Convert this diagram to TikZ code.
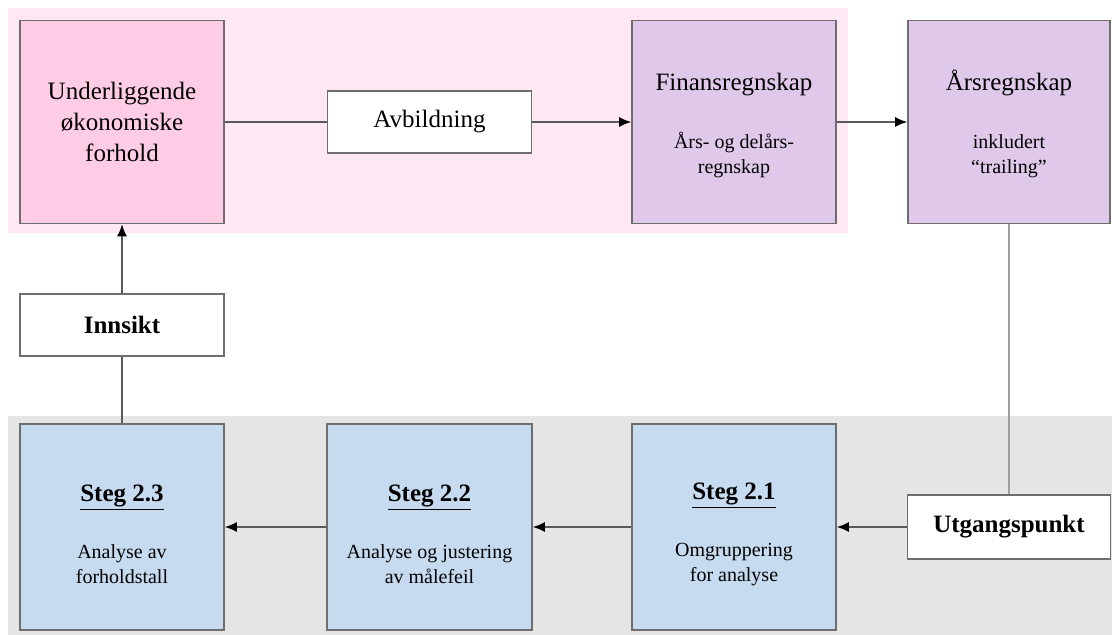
\documentclass[tikz,border=0pt]{standalone}
\usepackage{fontspec}
\setmainfont{Liberation Serif}
\usetikzlibrary{arrows.meta}
\definecolor{pinkbg}{RGB}{255,232,243}
\definecolor{pinkbox}{RGB}{255,204,230}
\definecolor{purplebox}{RGB}{224,200,234}
\definecolor{bluebox}{RGB}{198,218,240}
\definecolor{greybg}{RGB}{229,229,229}
\definecolor{edge}{RGB}{110,110,110}
\definecolor{conn}{RGB}{90,90,90}
\tikzset{
  bigbox/.style={draw=edge, line width=1.6pt, minimum width=204pt, minimum height=203pt, inner sep=0pt, align=center, font=\fontsize{20}{25}\selectfont},
  smallbox/.style={draw=edge, line width=1.6pt, fill=white, minimum width=204pt, minimum height=62pt, inner sep=0pt, align=center},
  link/.style={draw=conn, line width=1.5pt},
  arr/.style={link, -{Latex[length=12pt,width=10pt,fill=black,color=black]}}
}
\newcommand{\bigt}[1]{{\fontsize{25}{30}\selectfont #1}}
\begin{document}
\begin{tikzpicture}[x=1pt,y=-1pt]
\useasboundingbox (0,0) rectangle (1112,635);
\fill[white] (0,0) rectangle (1112,635);
\fill[pinkbg] (8,8) rectangle (848,233);
\fill[greybg] (8,416) rectangle (1112,635);

\node[bigbox, fill=pinkbox, font=\fontsize{25}{31}\selectfont] (und) at (122,122) {Underliggende\\økonomiske\\forhold};
\node[smallbox, font=\fontsize{25}{30}\selectfont] (avb) at (429.5,122) {Avbildning};
\node[bigbox, fill=purplebox] (fin) at (734,122) {\rule{0pt}{24pt}\bigt{Finansregnskap}\\[33pt]Års- og delårs-\\regnskap};
\node[bigbox, fill=purplebox, minimum width=202pt] (ars) at (1009,122) {\rule{0pt}{24pt}\bigt{Årsregnskap}\\[33pt]inkludert\\``trailing''};

\node[smallbox, font=\bfseries\fontsize{25}{30}\selectfont] (inn) at (122,325) {Innsikt};
\node[smallbox, minimum width=203pt, minimum height=64pt, font=\bfseries\fontsize{25}{30}\selectfont] (utg) at (1009,527) {Utgangspunkt};

\node[bigbox, fill=bluebox, minimum height=206pt] (s23) at (122,527) {\rule{0pt}{32pt}\bigt{\textbf{\underline{Steg 2.3}}}\\[32pt]Analyse av\\forholdstall};
\node[bigbox, fill=bluebox, minimum height=206pt, minimum width=205pt] (s22) at (429.5,527) {\rule{0pt}{32pt}\bigt{\textbf{\underline{Steg 2.2}}}\\[32pt]Analyse og justering\\av målefeil};
\node[bigbox, fill=bluebox, minimum height=206pt] (s21) at (734,527) {\rule{0pt}{32pt}\bigt{\textbf{\underline{Steg 2.1}}}\\[32pt]Omgruppering\\for analyse};

\draw[link] (und.east) -- (avb.west);
\draw[arr] (avb.east) -- (fin.west);
\draw[arr] (fin.east) -- (ars.west);
\draw[link, draw=gray!75] (ars.south) -- (utg.north);
\draw[arr] (utg.west) -- (s21.east);
\draw[arr] (s21.west) -- (s22.east);
\draw[arr] (s22.west) -- (s23.east);
\draw[link] (s23.north) -- (inn.south);
\draw[arr] (inn.north) -- (und.south);
\end{tikzpicture}
\end{document}
